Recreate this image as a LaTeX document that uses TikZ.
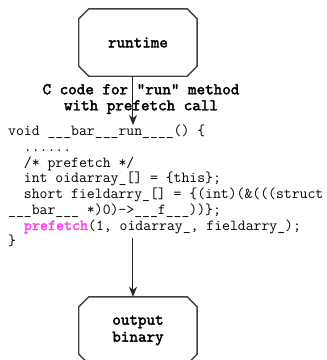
\documentclass[tikz,border=0pt]{standalone}
\usepackage{fontspec}
\usetikzlibrary{arrows.meta}
\newfontfamily\heavymono{lmmono10-regular.otf}[FakeBold=2.2]

\definecolor{pfpink}{HTML}{FF44F0}
\tikzset{
  stagebox/.style={minimum width=118pt, minimum height=67pt, inner sep=0pt,
    align=center, font=\fontsize{16.3}{17}\selectfont\heavymono},
  boxline/.style={draw=black!75, line width=1.4pt},
  flow/.style={-{Stealth[length=10pt,width=8pt,inset=3pt]}, line width=1pt, draw=black!85}
}
% chamfered outline round a named node
\newcommand{\chamferbox}[1]{%
  \draw[boxline] ([xshift=10pt]#1.north west) -- ([xshift=-10pt]#1.north east)
    -- ([yshift=-10pt]#1.north east) -- ([yshift=10pt]#1.south east)
    -- ([xshift=-10pt]#1.south east) -- ([xshift=10pt]#1.south west)
    -- ([yshift=10pt]#1.south west) -- ([yshift=-10pt]#1.north west) -- cycle;}

\begin{document}
\begin{tikzpicture}[x=1pt,y=-1pt]
    \useasboundingbox (0,0) rectangle (327,360);
    \clip (0,0) rectangle (327,360);

    \node[stagebox] (runtime) at (138,42.5) {runtime};
    \node[font=\fontsize{16.3}{16}\selectfont\heavymono, align=center] (label) at (141,99)
      {C code for "run" method\\with prefetch call};
    \node[anchor=north west, inner sep=0pt, align=left,
          font=\fontsize{15.3}{15.7}\selectfont\ttfamily] (code) at (8,125)
      {void \_\_\_bar\_\_\_run\_\_\_\_() \{\\
       \hphantom{xx}......\\
       \hphantom{xx}/* prefetch */\\
       \hphantom{xx}int oidarray\_[] = \{this\};\\
       \hphantom{xx}short fieldarry\_[] = \{(int)(\&(((struct\\
       \_\_\_bar\_\_\_ *)0)->\_\_\_f\_\_\_))\};\\
       \hphantom{xx}\textcolor{pfpink}{\heavymono prefetch}(1, oidarray\_, fieldarry\_);\\
       \}};
    \node[stagebox] (output) at (138,330.5) {output\\binary};

    \chamferbox{runtime}
    \chamferbox{output}

    \draw[flow] ([xshift=-5pt]runtime.south) -- ([xshift=-5pt]runtime.south |- code.north);
    \draw[flow] (133,238) -- ([xshift=-5pt]output.north);
\end{tikzpicture}
\end{document}
